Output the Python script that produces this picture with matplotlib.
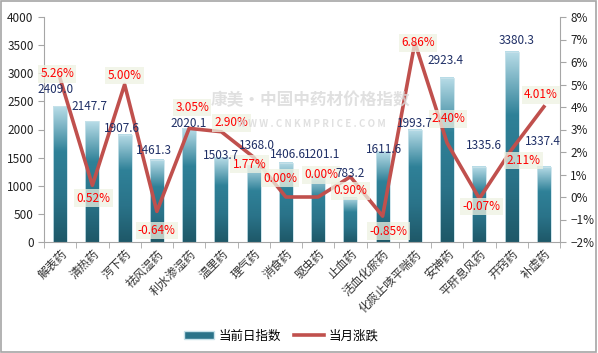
import numpy as np
import matplotlib.pyplot as plt
from matplotlib.patches import Rectangle
from matplotlib.colors import LinearSegmentedColormap
from matplotlib.ticker import PercentFormatter

plt.rcParams['font.family'] = ['Noto Sans CJK SC', 'DejaVu Sans']

categories = ['解表药', '清热药', '泻下药', '祛风湿药', '利水渗湿药', '温里药', '理气药', '消食药',
              '驱虫药', '止血药', '活血化瘀药', '化痰止咳平喘药', '安神药', '平肝息风药', '开窍药', '补虚药']
index_vals = [2409.0, 2147.7, 1907.6, 1461.3, 2020.1, 1503.7, 1368.0, 1406.6,
              1201.1, 783.2, 1611.6, 1993.7, 2923.4, 1335.6, 3380.3, 1337.4]
pct_vals = [5.26, 0.52, 5.00, -0.64, 3.05, 2.90, 1.77, 0.00,
            0.00, 0.90, -0.85, 6.86, 2.40, -0.07, 2.11, 4.01]

# label offsets in pixels (dx, dy), imitating excel's placement
bar_lab_off = [(-5, 17), (-3, 15), (-3, 6), (-3, 9), (0, 5), (0, 2), (3, 20), (2, 8),
               (4, 20), (0, 24), (1, 2), (0, 6), (-2, 17), (5, 21), (5, 11), (-1, 25)]
pct_lab_off = [(-3, 5), (1, -13), (0, 9), (0, -19), (3, 21), (10, 9), (-4, -7), (-6, 19),
               (3, 22), (0, -14), (6, -15), (3, 0), (1, 24), (2, -8), (12, -11), (-3, 12)]

bar_cmap = LinearSegmentedColormap.from_list('bar', ['#1e5868', '#2a7389', '#2f8198', '#b9dde8'])
line_color = '#c0504d'

fig = plt.figure(figsize=(5.98, 3.53), dpi=100)
fig.patches.append(Rectangle((0.002, 0.003), 0.995, 0.994, transform=fig.transFigure,
                             fill=False, edgecolor='#a6a6a6', linewidth=1.2))
ax = fig.add_axes([44 / 598, 1 - 242 / 353, (560 - 44) / 598, (242 - 17) / 353])
ax2 = ax.twinx()

x = np.arange(len(categories))
w = 0.43
grad = np.linspace(0, 1, 256).reshape(-1, 1)
for xi, v in zip(x, index_vals):
    ax.imshow(grad, extent=(xi - w / 2, xi + w / 2, 0, v), origin='lower', cmap=bar_cmap,
              aspect='auto', zorder=2)
    ax.add_patch(Rectangle((xi - w / 2, 0), w, v, fill=False, edgecolor='#c8e2ea',
                           linewidth=0.6, zorder=2))

ax.set_xlim(-0.5, len(categories) - 0.5)
ax.set_ylim(0, 4000)
ax.set_yticks(np.arange(0, 4001, 500))
ax.set_xticks(x)
ax.set_xticks(np.arange(-0.5, len(categories), 1), minor=True)
ax.set_xticklabels(categories, rotation=45, ha='right', rotation_mode='anchor',
                   fontsize=8.5, color='#333333')
ax.tick_params(axis='x', which='major', length=0, pad=4)
ax.tick_params(axis='x', which='minor', length=4, color='#a6a6a6')
ax.tick_params(axis='y', length=4, color='#a6a6a6', labelsize=8.5, labelcolor='#222222')
for s in ['top', 'right']:
    ax.spines[s].set_visible(False)
for s in ['left', 'bottom']:
    ax.spines[s].set_color('#a6a6a6')

ax2.plot(x, pct_vals, color=line_color, linewidth=2.6, zorder=4)
ax2.set_ylim(-2, 8)
ax2.set_yticks(np.arange(-2, 9, 1))
ax2.yaxis.set_major_formatter(PercentFormatter(decimals=0))
ax2.tick_params(axis='y', length=4, color='#a6a6a6', labelsize=8.5, labelcolor='#222222')
for s in ['top', 'left', 'bottom']:
    ax2.spines[s].set_visible(False)
ax2.spines['right'].set_color('#a6a6a6')

for xi, p, (dx, dy) in zip(x, pct_vals, pct_lab_off):
    ax2.annotate(f'{p:.2f}%', (xi, p), xytext=(dx, dy), textcoords='offset pixels',
                 ha='center', va='center', fontsize=8.5, color='#ff0000', zorder=6,
                 bbox=dict(boxstyle='square,pad=0.2', facecolor='#eef2e2', edgecolor='none', alpha=0.75))

# bar value labels drawn on the top axes so they sit over the line
for xi, v, (dx, dy) in zip(x, index_vals, bar_lab_off):
    ax2.annotate(f'{v:.1f}', (xi, v), xycoords=ax.transData, xytext=(dx, dy),
                 textcoords='offset pixels', ha='center', va='center', fontsize=8.5,
                 color='#1f2f66', zorder=7)

# faint watermark
fig.text(0.52, 0.715, '康美·中国中药材价格指数', fontsize=12, color='#d9d9d9', fontweight='bold',
         ha='center', va='center', alpha=0.8, zorder=0)
fig.text(0.52, 0.65, 'W W W . C N K M P R I C E . C O M', fontsize=7, color='#d9d9d9',
         fontweight='bold', ha='center', va='center', alpha=0.8, zorder=0)

leg_bar = Rectangle((0, 0), 1, 1, facecolor='#2a7389', edgecolor='#c8e2ea')
leg_line, = ax2.plot([], [], color=line_color, linewidth=2.6)
fig.legend([leg_bar, leg_line], ['当前日指数', '当月涨跌'], loc='center',
           bbox_to_anchor=(0.47, 1 - 336 / 353), ncol=2, frameon=False, fontsize=9,
           handlelength=2.4, handleheight=0.6, columnspacing=1.0, handletextpad=0.4)

fig.savefig('out.png', dpi=100)
